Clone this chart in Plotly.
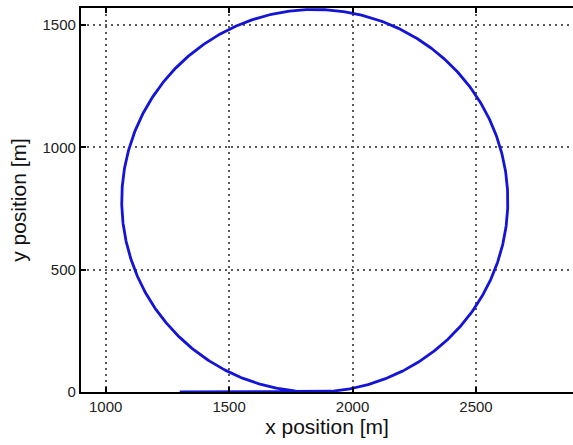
import numpy as np
import plotly.graph_objects as go

# Loiter trajectory: straight approach along y=0, then one full circle
approach_x = [1300, 1847]
approach_y = [0, 0]
circle_center_x = 1847
circle_center_y = 782
circle_radius = 782

x_ticks = [1000, 1500, 2000, 2500]
y_ticks = [0, 500, 1000, 1500]

theta = np.linspace(-np.pi / 2, 1.5 * np.pi, 721)
circ_x = circle_center_x + circle_radius * np.cos(theta)
circ_y = circle_center_y + circle_radius * np.sin(theta)

path_x = list(approach_x) + list(circ_x)
path_y = list(approach_y) + list(circ_y)

fig = go.Figure()
fig.add_trace(go.Scatter(
    x=path_x, y=path_y, mode="lines",
    line=dict(color="rgb(20,20,215)", width=2.8),
    showlegend=False, hoverinfo="skip",
))

axis_font = dict(family="Liberation Sans, Arial, sans-serif", size=15, color="#222")
title_font = dict(family="Liberation Sans, Arial, sans-serif", size=21, color="#111")
grid_dash = "1.5px,4.5px"

fig.update_xaxes(
    range=[900, 2893], tickvals=x_ticks, ticktext=[str(v) for v in x_ticks],
    showgrid=True, gridcolor="#5a5a5a", griddash=grid_dash, gridwidth=1.5,
    showline=True, linecolor="black", linewidth=2.2, mirror="ticks",
    ticks="inside", ticklen=5, tickwidth=1.5, tickcolor="black",
    zeroline=False, tickfont=axis_font,
    title=dict(text="x position [m]", font=title_font, standoff=2),
)
fig.update_yaxes(
    range=[0, 1570], tickvals=y_ticks, ticktext=[str(v) for v in y_ticks],
    showgrid=True, gridcolor="#5a5a5a", griddash=grid_dash, gridwidth=1.5,
    showline=True, linecolor="black", linewidth=2.2, mirror=False,
    ticks="inside", ticklen=5, tickwidth=1.5, tickcolor="black",
    zeroline=False, tickfont=axis_font,
    title=dict(text="y position [m]", font=title_font, standoff=10),
)

fig.update_layout(
    width=573, height=445,
    margin=dict(l=81, r=0, t=8, b=53),
    plot_bgcolor="white", paper_bgcolor="white",
)

fig.write_html("out.html")
